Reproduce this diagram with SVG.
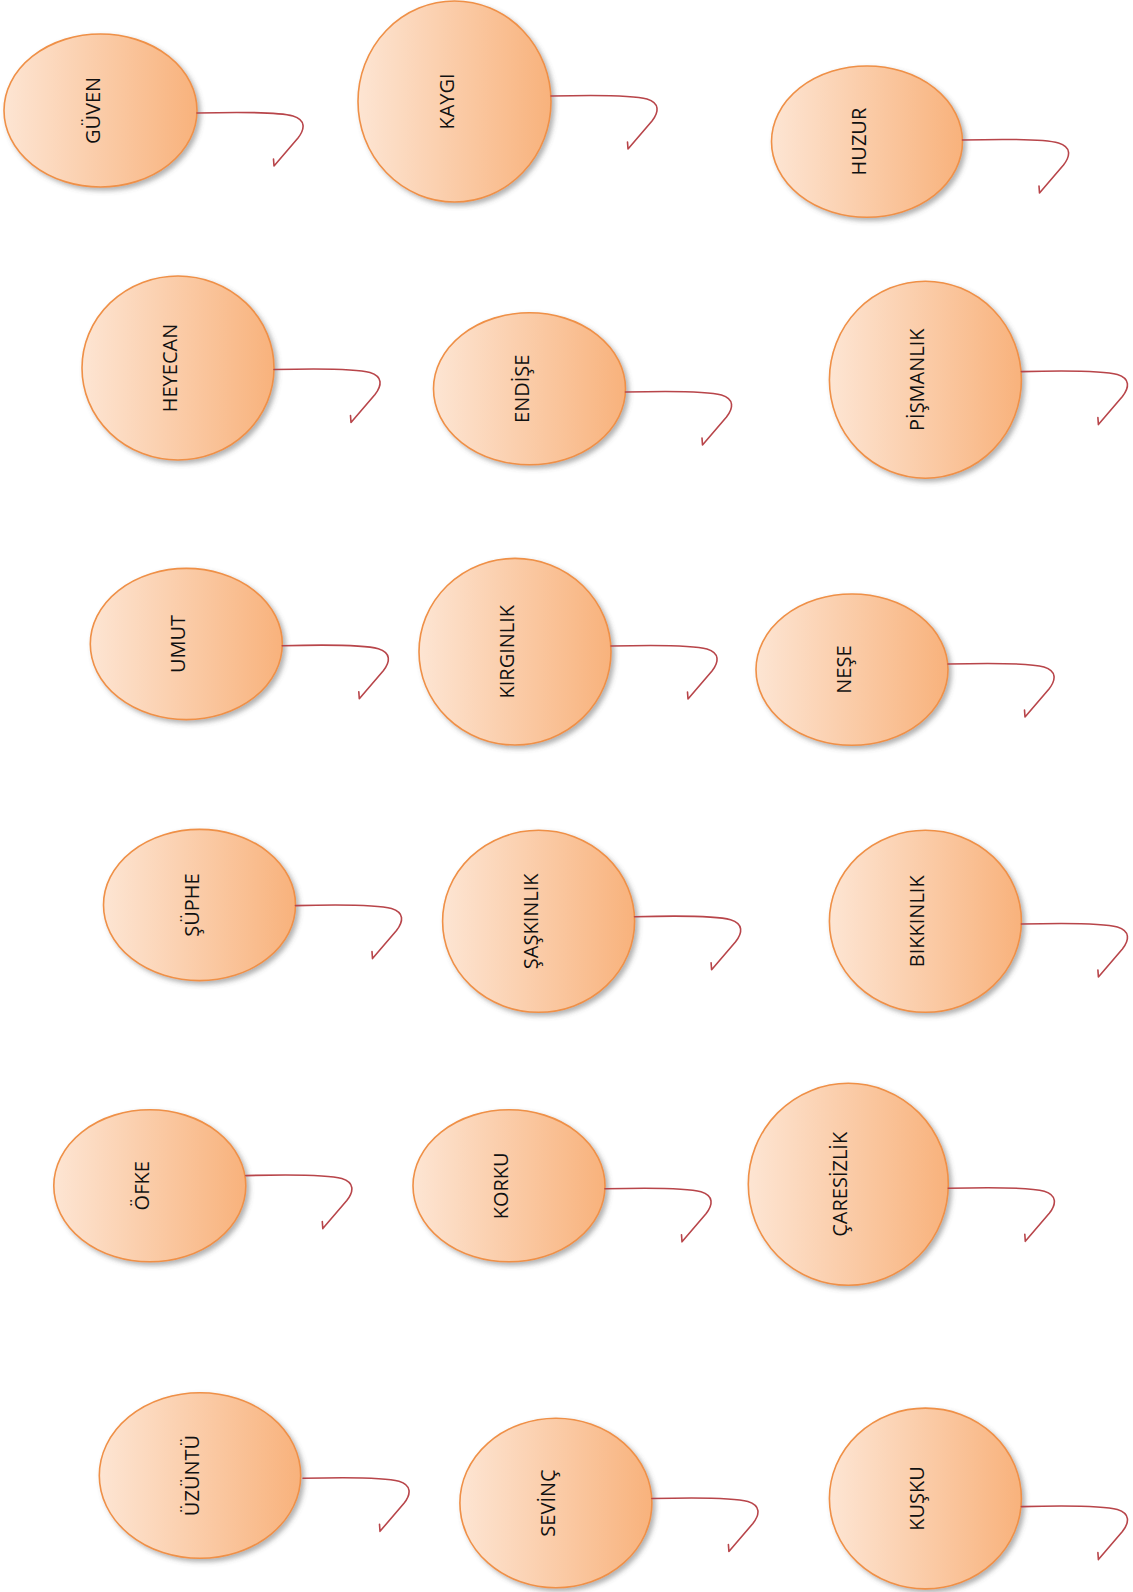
<svg xmlns="http://www.w3.org/2000/svg" xmlns:xlink="http://www.w3.org/1999/xlink" width="1133" height="1592" viewBox="0 0 1133 1592">
<style>
.bubble{fill:url(#g);stroke:#ef9047;stroke-width:1.6;filter:url(#sh)}
.lbl{font-family:"Open Sans","Liberation Sans",sans-serif;font-size:20px;fill:#111;text-anchor:middle}
.conn{fill:none;stroke:#b8454a;stroke-width:1.6;stroke-linecap:round;stroke-linejoin:round}
</style>
<defs>
<linearGradient id="g" x1="0" y1="0" x2="1" y2="0">
<stop offset="0" stop-color="#fde5d3"/>
<stop offset="1" stop-color="#f8b27c"/>
</linearGradient>
<filter id="sh" x="-20%" y="-20%" width="150%" height="150%">
<feDropShadow dx="3" dy="3" stdDeviation="2.5" flood-color="#555" flood-opacity="0.45"/>
</filter>
<path id="c" d="M0 0 C40 -1 82 -1 96 3 C109 7 108 16 101 25 L77 53 M77 53 L76.5 46"/>
</defs>
<rect width="1133" height="1592" fill="#fff"/>

<g id="n-guven"><ellipse class="bubble" cx="100.5" cy="110.5" rx="96.5" ry="76.5"/><text class="lbl" transform="translate(99.5 110.5) rotate(-90)">GÜVEN</text></g>
<g id="n-kaygi"><ellipse class="bubble" cx="454.5" cy="101.5" rx="96.5" ry="100.5"/><text class="lbl" transform="translate(453.5 101.5) rotate(-90)">KAYGI</text></g>
<g id="n-huzur"><ellipse class="bubble" cx="867" cy="141.6" rx="95.5" ry="75.6"/><text class="lbl" transform="translate(866 141.6) rotate(-90)">HUZUR</text></g>

<g id="n-heyecan"><ellipse class="bubble" cx="178" cy="368" rx="96" ry="92"/><text class="lbl" transform="translate(177 368) rotate(-90)">HEYECAN</text></g>
<g id="n-endise"><ellipse class="bubble" cx="529.5" cy="388.8" rx="96" ry="76"/><text class="lbl" transform="translate(528.5 388.8) rotate(-90)">ENDİŞE</text></g>
<g id="n-pismanlik"><ellipse class="bubble" cx="925.4" cy="379.7" rx="96" ry="98.5"/><text class="lbl" transform="translate(924.4 379.7) rotate(-90)">PİŞMANLIK</text></g>

<g id="n-umut"><ellipse class="bubble" cx="186.3" cy="644" rx="96" ry="75.6"/><text class="lbl" transform="translate(185.3 644) rotate(-90)">UMUT</text></g>
<g id="n-kirginlik"><ellipse class="bubble" cx="515" cy="651.7" rx="96" ry="93.3"/><text class="lbl" transform="translate(514 651.7) rotate(-90)">KIRGINLIK</text></g>
<g id="n-nese"><ellipse class="bubble" cx="852" cy="669.6" rx="96" ry="75.6"/><text class="lbl" transform="translate(851 669.6) rotate(-90)">NEŞE</text></g>

<g id="n-suphe"><ellipse class="bubble" cx="199.5" cy="905" rx="96" ry="75.6"/><text class="lbl" transform="translate(198.5 905) rotate(-90)">ŞÜPHE</text></g>
<g id="n-saskinlik"><ellipse class="bubble" cx="538.6" cy="921.3" rx="96" ry="91"/><text class="lbl" transform="translate(537.6 921.3) rotate(-90)">ŞAŞKINLIK</text></g>
<g id="n-bikkinlik"><ellipse class="bubble" cx="925.4" cy="921.3" rx="96" ry="91"/><text class="lbl" transform="translate(924.4 921.3) rotate(-90)">BIKKINLIK</text></g>

<g id="n-ofke"><ellipse class="bubble" cx="149.8" cy="1185.8" rx="96" ry="76"/><text class="lbl" transform="translate(148.8 1185.8) rotate(-90)">ÖFKE</text></g>
<g id="n-korku"><ellipse class="bubble" cx="509" cy="1185.8" rx="96" ry="76"/><text class="lbl" transform="translate(508 1185.8) rotate(-90)">KORKU</text></g>
<g id="n-caresizlik"><ellipse class="bubble" cx="848.3" cy="1184.3" rx="100" ry="101"/><text class="lbl" transform="translate(847.3 1184.3) rotate(-90)">ÇARESİZLİK</text></g>

<g id="n-uzuntu"><ellipse class="bubble" cx="200" cy="1475.5" rx="100.7" ry="82.8"/><text class="lbl" transform="translate(199 1475.5) rotate(-90)">ÜZÜNTÜ</text></g>
<g id="n-sevinc"><ellipse class="bubble" cx="555.9" cy="1503" rx="96" ry="84.8"/><text class="lbl" transform="translate(554.9 1503) rotate(-90)">SEVİNÇ</text></g>
<g id="n-kusku"><ellipse class="bubble" cx="925.4" cy="1498.5" rx="96" ry="90.4"/><text class="lbl" transform="translate(924.4 1498.5) rotate(-90)">KUŞKU</text></g>

<g id="connectors" class="conn">
<use xlink:href="#c" href="#c" transform="translate(197 113)"/>
<use xlink:href="#c" href="#c" transform="translate(551 96)"/>
<use xlink:href="#c" href="#c" transform="translate(962.5 140)"/>
<use xlink:href="#c" href="#c" transform="translate(274 369.5)"/>
<use xlink:href="#c" href="#c" transform="translate(625.5 392)"/>
<use xlink:href="#c" href="#c" transform="translate(1021.4 371.6)"/>
<use xlink:href="#c" href="#c" transform="translate(282.3 645.7)"/>
<use xlink:href="#c" href="#c" transform="translate(611 646)"/>
<use xlink:href="#c" href="#c" transform="translate(948 664)"/>
<use xlink:href="#c" href="#c" transform="translate(295.5 905.6)"/>
<use xlink:href="#c" href="#c" transform="translate(634.6 916.7)"/>
<use xlink:href="#c" href="#c" transform="translate(1021.4 924)"/>
<use xlink:href="#c" href="#c" transform="translate(245.8 1175.6)"/>
<use xlink:href="#c" href="#c" transform="translate(605 1188.8)"/>
<use xlink:href="#c" href="#c" transform="translate(948.3 1188.3)"/>
<use xlink:href="#c" href="#c" transform="translate(303 1478.3)"/>
<use xlink:href="#c" href="#c" transform="translate(651.9 1498.5)"/>
<use xlink:href="#c" href="#c" transform="translate(1021.4 1506.6)"/>
</g>
</svg>
